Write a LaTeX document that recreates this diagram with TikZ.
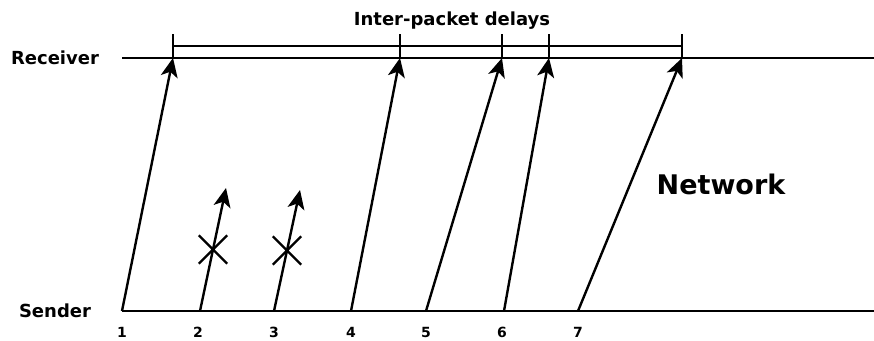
\documentclass[tikz,border=0pt]{standalone}
\usepackage{fontspec}
\setmainfont{DejaVu Sans}
\usetikzlibrary{positioning, arrows.meta, shapes.misc}
\tikzset{
    lane/.style={line width=2.4pt},
    pkt/.style={line width=2.4pt, -{Stealth[length=19pt, width=17pt, inset=5pt]}},
    lost/.style={cross out, draw, line width=2.4pt, minimum size=26pt, inner sep=0pt},
    side/.style={font=\fontsize{18}{20}\selectfont\bfseries, anchor=base},
    seq/.style={font=\fontsize{14}{16}\selectfont\bfseries, anchor=base},
    big/.style={font=\fontsize{27}{30}\selectfont\bfseries, anchor=base},
    tickmark/.style={line width=2.4pt},
}

\begin{document}
\begin{tikzpicture}[x=1pt, y=-1pt]
                        \useasboundingbox (0,0) rectangle (874,340);
                        % the two time lines
                        \node [side] (rcv) at (55,64) {Receiver};
                        \node [side] (snd) at (55,317) {Sender};
                        \coordinate (rcvstart) at (122,58);
                        \coordinate (rcvend) at (874,58);
                        \coordinate (sndend) at (874,311);
                        \node [big] (net) at (721,194) {Network};
                        \node [side] (gaps) at (452,25) {Inter-packet delays};
                        % send times
                        \coordinate (s1) at (122,311);
                        \coordinate (s2) at (200,311);
                        \coordinate (s3) at (274,311);
                        \coordinate (s4) at (351,311);
                        \coordinate (s5) at (426,311);
                        \coordinate (s6) at (504,311);
                        \coordinate (s7) at (578,311);
                        \node [seq] (n1) at (122,337) {1};
                        \node [seq] (n2) at (198,337) {2};
                        \node [seq] (n3) at (274,337) {3};
                        \node [seq] (n4) at (351,337) {4};
                        \node [seq] (n5) at (426,337) {5};
                        \node [seq] (n6) at (502,337) {6};
                        \node [seq] (n7) at (578,337) {7};
                        % arrival times
                        \coordinate (r1) at (173,58);
                        \coordinate (r4) at (400,58);
                        \coordinate (r5) at (502,58);
                        \coordinate (r6) at (549,58);
                        \coordinate (r7) at (682,58);
                        \coordinate (t1) at (173,34);
                        \coordinate (t4) at (400,34);
                        \coordinate (t5) at (502,34);
                        \coordinate (t6) at (549,34);
                        \coordinate (t7) at (682,34);
                        \coordinate (b1) at (173,46);
                        \coordinate (b7) at (682,46);
                        % dropped packets
                        \coordinate (l2) at (226,188);
                        \coordinate (l3) at (300,190);
                        \draw[lane] (rcvstart) -- (rcvend);
                        \draw[lane] (s1) -- (sndend);
                        \draw[lane] (b1) -- (b7);
                        \draw[tickmark] (t1) -- (r1);
                        \draw[tickmark] (t4) -- (r4);
                        \draw[tickmark] (t5) -- (r5);
                        \draw[tickmark] (t6) -- (r6);
                        \draw[tickmark] (t7) -- (r7);
                        \draw[pkt] (s1) -- (r1);
                        \draw[pkt] (s2) -- node[lost] (x2) {} (l2);
                        \draw[pkt] (s3) -- node[lost] (x3) {} (l3);
                        \draw[pkt] (s4) -- (r4);
                        \draw[pkt] (s5) -- (r5);
                        \draw[pkt] (s6) -- (r6);
                        \draw[pkt] (s7) -- (r7);
                    \end{tikzpicture}
\end{document}
